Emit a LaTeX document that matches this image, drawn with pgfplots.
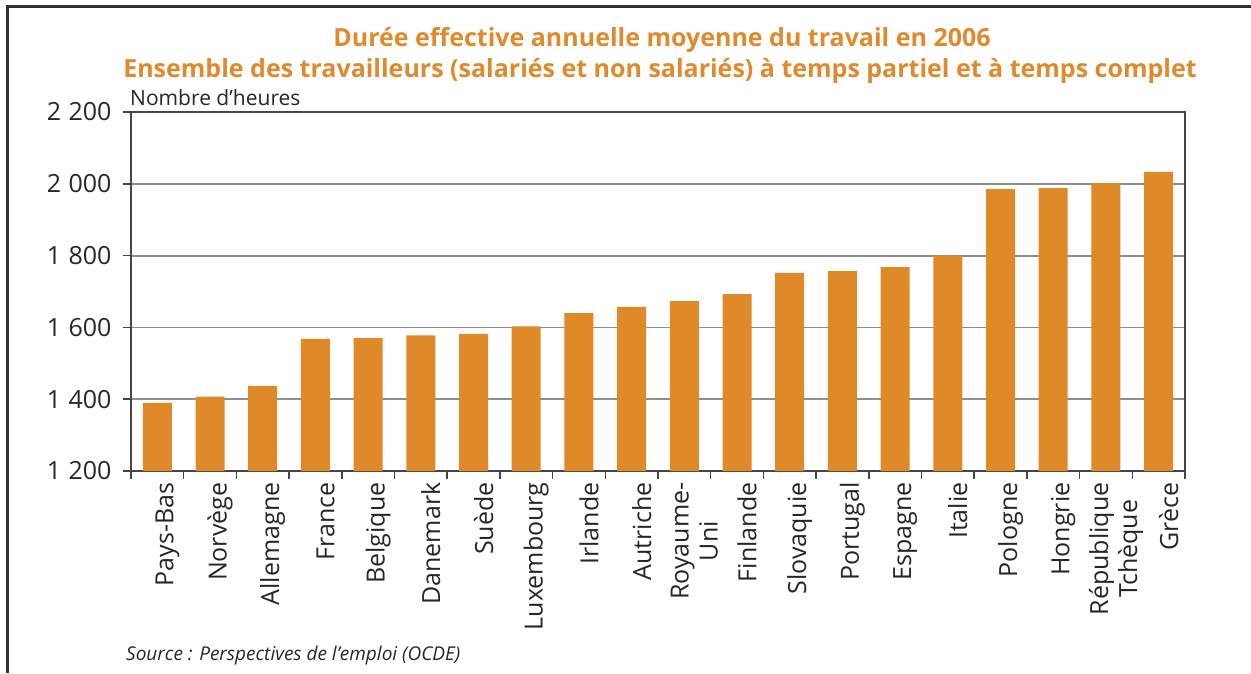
\documentclass[border=0pt]{standalone}
\usepackage{fontspec}
\setmainfont{Open Sans}
\usepackage{pgfplots}
\pgfplotsset{compat=1.18}
\definecolor{barorange}{HTML}{E08929}
\definecolor{titleorange}{HTML}{E08A2E}
\definecolor{gridgray}{HTML}{8E8E8E}
\definecolor{axisdark}{HTML}{454545}
\definecolor{framedark}{HTML}{303030}
\newcommand{\ksp}{\hspace{0.3em}}
\begin{document}
\begin{tikzpicture}[x=1pt,y=1pt]
\useasboundingbox (0,0) rectangle (1251,673);
\draw[line width=3pt, color=framedark] (7,0) -- (7,666) -- (1251,666);
\begin{axis}[
  at={(131pt,202pt)}, anchor=south west,
  scale only axis, width=1054pt, height=359pt,
  xmin=-0.5, xmax=19.5, ymin=1200, ymax=2200,
  ytick={1200,1400,1600,1800,2000,2200},
  yticklabels={1\ksp200,1\ksp400,1\ksp600,1\ksp800,2\ksp000,2\ksp200},
  yticklabel style={font=\fontsize{25}{27}\selectfont, color=black!85, xshift=-8pt},
  xtick={-0.5,0.5,...,19.5},
  x tick label as interval,
  xticklabels={Pays-Bas,Norvège,Allemagne,France,Belgique,Danemark,Suède,Luxembourg,Irlande,Autriche,{Royaume-\\Uni},Finlande,Slovaquie,Portugal,Espagne,Italie,Pologne,Hongrie,{République\\Tchèque},Grèce},
  xticklabel style={rotate=90, anchor=east, align=center, font=\fontsize{25}{29}\selectfont, color=black!85, yshift=-10pt},
  tick pos=left,
  tick align=outside,
  major tick length=8pt,
  tick style={axisdark, line width=1.5pt},
  ymajorgrids,
  grid style={gridgray, line width=1.8pt},
  axis line style={axisdark, line width=1.8pt},
  ybar, bar width=29pt,
]
\addplot[fill=barorange, draw=none] coordinates {
(0,1390) (1,1407) (2,1437) (3,1568) (4,1570) (5,1578) (6,1582) (7,1603) (8,1640) (9,1657)
(10,1673) (11,1693) (12,1752) (13,1757) (14,1768) (15,1800) (16,1985) (17,1988) (18,2002) (19,2033)
};
\end{axis}
\node[anchor=base, text=titleorange, font=\bfseries\fontsize{25}{26}\selectfont] at (662,626) {Durée effective annuelle moyenne du travail en 2006};
\node[anchor=base, text=titleorange, font=\bfseries\fontsize{25}{26}\selectfont] at (660,595) {Ensemble des travailleurs (salariés et non salariés) à temps partiel et à temps complet};
\node[anchor=base west, inner sep=0pt, font=\fontsize{21}{22}\selectfont, text=black!85] at (130,567) {Nombre d'heures};
\node[anchor=base west, inner sep=0pt, font=\itshape\fontsize{19}{21}\selectfont, text=black!85] at (126,13) {Source : Perspectives de l'emploi (OCDE)};
\end{tikzpicture}
\end{document}
